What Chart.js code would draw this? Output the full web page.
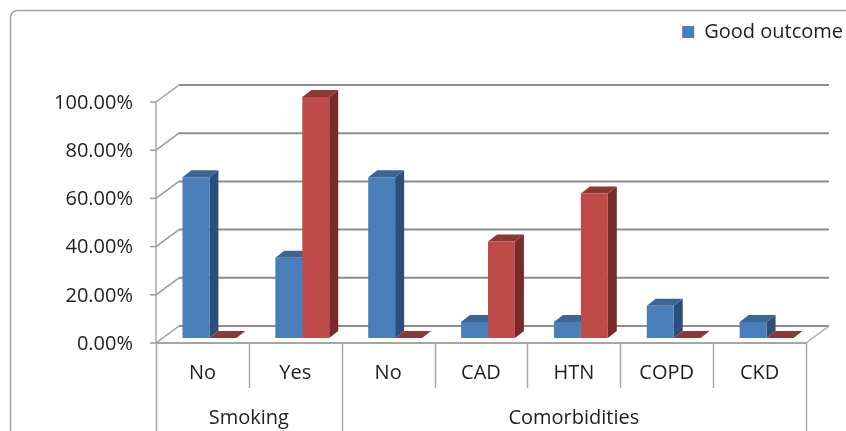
<!DOCTYPE html>
<html>
<head>
<meta charset="utf-8">
<script src="https://cdn.jsdelivr.net/npm/chart.js@4/dist/chart.umd.min.js"></script>
<style>
  html, body { margin: 0; padding: 0; background: #ffffff; }
  #wrap { width: 846px; height: 431px; }
</style>
</head>
<body>
<div id="wrap"><canvas id="c" width="846" height="431"></canvas></div>
<script>
// Categories along the horizontal axis, grouped by factor
const categories = ['No', 'Yes', 'No', 'CAD', 'HTN', 'COPD', 'CKD'];
const groups = ['Smoking', 'Comorbidities'];
const groupSpans = [2, 5];

// Percentage of patients in each category
const goodOutcome = [66.67, 33.33, 66.67, 6.67, 6.67, 13.33, 6.67];
const poorOutcome = [0, 100, 0, 40, 60, 0, 0];

// Value axis ticks
const yTicks = [0, 20, 40, 60, 80, 100];

// Centre of each group, in category units
const groupCenters = [];
{
  let start = 0;
  for (const span of groupSpans) { groupCenters.push(start + span / 2); start += span; }
}

// Pseudo-3D offsets (pixels): front plane, back wall, bar depth
const FRONT = { dx: -7, dy: 5 };
const BACK = { dx: 16, dy: -12 };
const DEPTH = { dx: 9, dy: -7 };

const faceColors = [
  { front: '#4a7ebb', side: '#2c4f7a', top: '#3b6494' },
  { front: '#be4b48', side: '#772c2a', top: '#8c3836' }
];

Chart.defaults.font.family = "'Open Sans', sans-serif";
Chart.defaults.font.size = 20;
Chart.defaults.color = '#1e1e1e';

function poly(ctx, pts, fill) {
  ctx.beginPath();
  ctx.moveTo(pts[0][0], pts[0][1]);
  for (let i = 1; i < pts.length; i++) ctx.lineTo(pts[i][0], pts[i][1]);
  ctx.closePath();
  ctx.fillStyle = fill;
  ctx.fill();
}

function line(ctx, x1, y1, x2, y2, color, w) {
  ctx.beginPath();
  ctx.moveTo(x1, y1);
  ctx.lineTo(x2, y2);
  ctx.strokeStyle = color;
  ctx.lineWidth = w;
  ctx.stroke();
}

const frame3d = {
  id: 'frame3d',
  beforeDraw(chart) {
    const ctx = chart.ctx;
    ctx.save();
    ctx.beginPath();
    ctx.roundRect(10.5, 10.5, 900, 500, 7);
    ctx.strokeStyle = '#a3a3a3';
    ctx.lineWidth = 1.5;
    ctx.stroke();
    ctx.restore();
  },
  beforeDatasetsDraw(chart) {
    const ctx = chart.ctx;
    const area = chart.chartArea;
    const ys = chart.scales.y;
    const xs = chart.scales.x;
    const y0 = ys.getPixelForValue(0);
    const yMax = ys.getPixelForValue(yTicks[yTicks.length - 1]);
    ctx.save();

    // back wall gridlines with their side-wall connectors
    for (const v of yTicks) {
      const yp = ys.getPixelForValue(v);
      const fx = area.left + FRONT.dx, fy = yp + FRONT.dy;
      const bx = area.left + BACK.dx, by = yp + BACK.dy;
      line(ctx, fx, fy, bx, by, '#9a9a9a', 1.5);
      line(ctx, bx, by, area.right + BACK.dx, by, '#8c8c8c', 2);
      // tick mark on the front axis
      line(ctx, fx - 6, fy, fx, fy, '#9a9a9a', 1.5);
    }

    // floor edges
    line(ctx, area.left + FRONT.dx, y0 + FRONT.dy, area.right + FRONT.dx, y0 + FRONT.dy, '#a6a6a6', 2);
    line(ctx, area.right + FRONT.dx, y0 + FRONT.dy, area.right + BACK.dx, y0 + BACK.dy, '#a6a6a6', 1.5);
    // front value axis
    line(ctx, area.left + FRONT.dx, yMax + FRONT.dy, area.left + FRONT.dx, y0 + FRONT.dy, '#a6a6a6', 1.5);

    // category and group separators below the floor
    const groupEdges = [0];
    groupSpans.reduce((acc, s) => { groupEdges.push(acc + s); return acc + s; }, 0);
    for (let k = 0; k <= categories.length; k++) {
      let bx;
      if (k === 0) bx = area.left;
      else if (k === categories.length) bx = area.right;
      else bx = (xs.getPixelForValue(k - 1) + xs.getPixelForValue(k)) / 2;
      const px = Math.round(bx + FRONT.dx) + 0.5;
      const bottom = groupEdges.includes(k) ? chart.height : xs.bottom;
      line(ctx, px, y0 + FRONT.dy, px, bottom, '#a6a6a6', 1.5);
    }

    // bar side and top faces (the library draws the front faces over them)
    for (let i = 0; i < categories.length; i++) {
      chart.data.datasets.forEach((ds, di) => {
        const el = chart.getDatasetMeta(di).data[i];
        if (!el) return;
        const { x, y, base, width } = el.getProps(['x', 'y', 'base', 'width'], true);
        const left = x - width / 2, right = x + width / 2;
        const top = Math.min(y, base), bot = Math.max(y, base);
        const c = faceColors[di];
        poly(ctx, [[right, top], [right + DEPTH.dx, top + DEPTH.dy], [right + DEPTH.dx, bot + DEPTH.dy], [right, bot]], c.side);
        poly(ctx, [[left, top], [left + DEPTH.dx, top + DEPTH.dy], [right + DEPTH.dx, top + DEPTH.dy], [right, top]], c.top);
      });
    }
    ctx.restore();
  }
};

const hiddenAxis = {
  display: true,
  offset: false,
  grid: { display: false, drawTicks: false },
  border: { display: false },
  ticks: { display: false }
};

new Chart(document.getElementById('c'), {
  type: 'bar',
  data: {
    labels: categories,
    datasets: [
      { label: 'Good outcome', data: goodOutcome, backgroundColor: faceColors[0].front, borderWidth: 0 },
      { label: 'Poor outcome', data: poorOutcome, backgroundColor: faceColors[1].front, borderWidth: 0 }
    ]
  },
  options: {
    responsive: false,
    animation: false,
    devicePixelRatio: 1,
    layout: { padding: { top: 19, left: 0, right: 0, bottom: 0 } },
    datasets: { bar: { categoryPercentage: 0.58, barPercentage: 1 } },
    plugins: {
      legend: {
        position: 'top',
        align: 'end',
        labels: {
          boxWidth: 12,
          boxHeight: 12,
          padding: 3,
          filter: (item) => item.datasetIndex === 0
        }
      },
      tooltip: { enabled: false }
    },
    scales: {
      x: {
        type: 'category',
        position: 'bottom',
        offset: true,
        grid: { display: false, drawTicks: false },
        border: { display: false },
        ticks: { padding: 23, labelOffset: FRONT.dx, autoSkip: false, maxRotation: 0 },
        afterFit(s) { s.height = 50; }
      },
      xGroup: {
        type: 'linear',
        position: 'bottom',
        offset: false,
        min: 0,
        max: categories.length,
        grid: { display: false, drawTicks: false, offset: false },
        border: { display: false },
        ticks: {
          padding: 18,
          labelOffset: FRONT.dx,
          autoSkip: false,
          maxRotation: 0,
          callback: (v) => groups[groupCenters.indexOf(v)]
        },
        afterBuildTicks(s) { s.ticks = groupCenters.map(v => ({ value: v })); },
        afterFit(s) { s.height = 43; }
      },
      xTop: Object.assign({ type: 'category', position: 'top', afterFit(s) { s.height = 45; } }, hiddenAxis),
      y: {
        position: 'left',
        min: 0,
        max: 100,
        grid: { display: false, drawTicks: false },
        border: { display: false },
        ticks: {
          stepSize: 20,
          padding: 30,
          labelOffset: FRONT.dy + 1,
          callback: (v) => v.toFixed(2) + '%'
        },
        afterFit(s) { s.width = 163; }
      },
      yRight: Object.assign({ position: 'right', min: 0, max: 100, afterFit(s) { s.width = 33; } }, hiddenAxis)
    }
  },
  plugins: [frame3d]
});
</script>
</body>
</html>
